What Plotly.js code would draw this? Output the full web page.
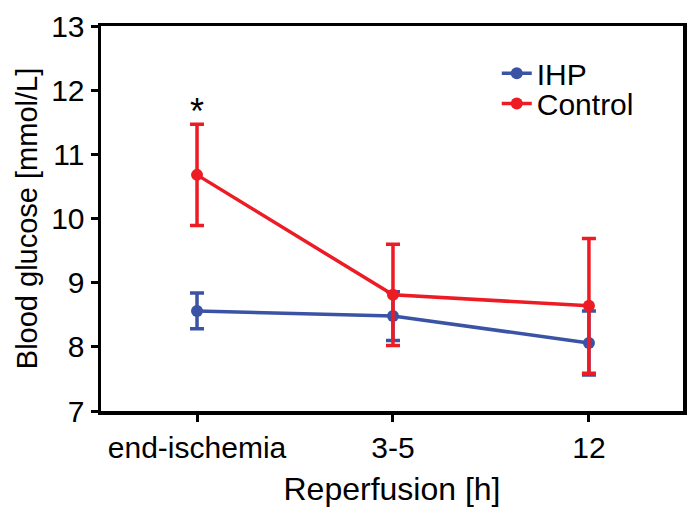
<!DOCTYPE html>
<html>
<head>
<meta charset="utf-8">
<script src="https://cdn.plot.ly/plotly-3.0.1.min.js"></script>
<style>html,body{margin:0;padding:0;background:#fff;}#chart{width:700px;height:521px;}</style>
</head>
<body>
<div id="chart"></div>
<script>
const categories = ["end-ischemia", "3-5", "12"];
const ihpMean = [8.56, 8.48, 8.06];
const ihpErr = [0.28, 0.38, 0.50];
const controlMean = [10.68, 8.81, 8.64];
const controlErr = [0.79, 0.79, 1.05];
const yTicks = [7, 8, 9, 10, 11, 12, 13];

const blue = "#3a53a4";
const red = "#ed1c24";
const font = "Liberation Sans, Arial, sans-serif";

const traces = [
  {
    name: "IHP", x: categories, y: ihpMean, type: "scatter", mode: "lines+markers",
    legend: "legend",
    line: {color: blue, width: 3.5}, marker: {color: blue, size: 12},
    error_y: {type: "data", array: ihpErr, visible: true, color: blue, thickness: 3.5, width: 7}
  },
  {
    name: "Control", x: categories, y: controlMean, type: "scatter", mode: "lines+markers",
    legend: "legend2",
    line: {color: red, width: 3.5}, marker: {color: red, size: 12},
    error_y: {type: "data", array: controlErr, visible: true, color: red, thickness: 3.5, width: 7}
  }
];

const legendCommon = {xanchor: "left", yanchor: "middle", bgcolor: "rgba(0,0,0,0)",
  font: {size: 30, family: font, color: "#000"}, itemwidth: 30};

const layout = {
  width: 700, height: 521,
  margin: {l: 101, r: 17, t: 26, b: 110},
  paper_bgcolor: "#fff", plot_bgcolor: "#fff",
  font: {family: font, color: "#000", size: 30},
  showlegend: true,
  legend: Object.assign({x: 0.68, y: 0.877}, legendCommon),
  legend2: Object.assign({x: 0.68, y: 0.799}, legendCommon),
  xaxis: {
    type: "category", range: [-0.49, 2.48], showgrid: false, zeroline: false,
    showline: true, linecolor: "#000", linewidth: 3.5, mirror: true,
    ticks: "outside", ticklen: 7, tickwidth: 3, tickcolor: "#000",
    tickfont: {size: 30, family: font},
    title: {text: "Reperfusion [h]", font: {size: 32, family: font}, standoff: 16}
  },
  yaxis: {
    range: [7, 13], tickvals: yTicks, showgrid: false, zeroline: false,
    showline: true, linecolor: "#000", linewidth: 3.5, mirror: true,
    ticks: "outside", ticklen: 7, tickwidth: 3, tickcolor: "#000",
    tickfont: {size: 30, family: font},
    title: {text: "Blood glucose [mmol/L]", font: {size: 29, family: font}, standoff: 6}
  },
  annotations: [
    {x: categories[0], y: 11.66, xref: "x", yref: "y", text: "*", showarrow: false,
     font: {size: 36, family: font, color: "#000"}, yanchor: "middle"}
  ]
};

Plotly.newPlot("chart", traces, layout, {displayModeBar: false, staticPlot: true});
</script>
</body>
</html>
